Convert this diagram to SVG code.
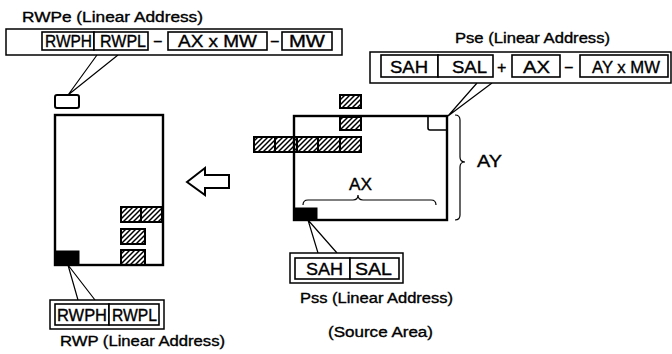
<svg xmlns="http://www.w3.org/2000/svg" width="672" height="354" viewBox="0 0 672 354">
<defs>
<pattern id="hatch" patternUnits="userSpaceOnUse" width="5" height="5">
<path d="M0,5 L5,0 M-1,1 L1,-1 M4,6 L6,4" stroke="#000" stroke-width="1.5"/>
</pattern>
<style>
text{font-family:"Liberation Sans",Arial,sans-serif;fill:#000;stroke:#000;stroke-width:0.35}
.lbl{font-size:14px}
.reg{font-size:16px}
.box{fill:#fff;stroke:#000;stroke-width:1.6}
.outer{fill:#fff;stroke:#000;stroke-width:1.5}
.area{fill:none;stroke:#000;stroke-width:2.4}
.h{fill:url(#hatch);stroke:#000;stroke-width:2}
.blk{fill:#000;stroke:#000;stroke-width:1}
.ln{fill:none;stroke:#000;stroke-width:1.2}
</style>
</defs>
<rect width="672" height="354" fill="#fff"/>

<g id="connectors">
<path class="ln" d="M97,55 L68,95 M118,55 L68,95"/>
<path class="ln" d="M477,83 L448,116 M492,83 L448,116"/>
<path class="ln" d="M308,220 L318,253 M308,220 L337,253"/>
<path class="ln" d="M68,265 L78,300 M68,265 L95,300"/>
<polygon points="187,182 205,168 205,175 229,175 229,188 205,188 205,195" fill="#fff" stroke="#000" stroke-width="2"/>
</g>

<g id="rwpe">
<text class="lbl" x="22" y="22" textLength="181" lengthAdjust="spacingAndGlyphs">RWPe  (Linear Address)</text>
<rect class="outer" x="6" y="29" width="336" height="26"/>
<rect class="box" x="42" y="32" width="52" height="18"/>
<rect class="box" x="94" y="32" width="54" height="18"/>
<rect class="box" x="168" y="32" width="99" height="18"/>
<rect class="box" x="282" y="32" width="50" height="18"/>
<text class="reg" x="45" y="47" textLength="47" lengthAdjust="spacingAndGlyphs">RWPH</text>
<text class="reg" x="100" y="47" textLength="46" lengthAdjust="spacingAndGlyphs">RWPL</text>
<text class="reg" x="153" y="47">−</text>
<text class="reg" x="178" y="47" textLength="79" lengthAdjust="spacingAndGlyphs">AX x MW</text>
<text class="reg" x="270" y="47">−</text>
<text class="reg" x="289" y="47" textLength="36" lengthAdjust="spacingAndGlyphs">MW</text>
</g>

<g id="pse">
<text class="lbl" x="455" y="43" textLength="155" lengthAdjust="spacingAndGlyphs">Pse (Linear Address)</text>
<rect class="outer" x="370" y="52" width="301" height="31"/>
<rect class="box" x="381" y="55" width="57" height="22"/>
<rect class="box" x="438" y="55" width="55" height="22"/>
<rect class="box" x="512" y="55" width="48" height="22"/>
<rect class="box" x="580" y="55" width="88" height="22"/>
<text class="reg" x="390" y="73" textLength="38" lengthAdjust="spacingAndGlyphs">SAH</text>
<text class="reg" x="452" y="73" textLength="35" lengthAdjust="spacingAndGlyphs">SAL</text>
<text class="reg" x="497" y="73">+</text>
<text class="reg" x="523" y="73" textLength="27" lengthAdjust="spacingAndGlyphs">AX</text>
<text class="reg" x="564" y="73">−</text>
<text class="reg" x="592" y="73" textLength="68" lengthAdjust="spacingAndGlyphs">AY x MW</text>
</g>

<g id="dest">
<rect x="55" y="95" width="24" height="13" rx="2" fill="#fff" stroke="#000" stroke-width="2"/>
<rect class="area" x="55" y="115" width="108" height="150"/>
<rect class="h" x="121" y="207" width="20" height="15"/>
<rect class="h" x="141" y="207" width="21" height="15"/>
<rect class="h" x="121" y="229" width="24" height="15"/>
<rect class="h" x="121" y="250" width="24" height="15"/>
<rect class="blk" x="55" y="251" width="24" height="14"/>
</g>

<g id="rwp">
<rect class="outer" x="50" y="300" width="114" height="29"/>
<rect class="box" x="55" y="304" width="54" height="21"/>
<rect class="box" x="109" y="304" width="50" height="21"/>
<text class="reg" x="57" y="321" textLength="50" lengthAdjust="spacingAndGlyphs">RWPH</text>
<text class="reg" x="112" y="321" textLength="45" lengthAdjust="spacingAndGlyphs">RWPL</text>
<text class="lbl" x="60" y="346" textLength="165" lengthAdjust="spacingAndGlyphs">RWP (Linear Address)</text>
</g>

<g id="source">
<rect class="h" x="340" y="95" width="21" height="13"/>
<rect class="h" x="340" y="117" width="21" height="13"/>
<rect class="h" x="254" y="137" width="21" height="15"/>
<rect class="h" x="275" y="137" width="22" height="15"/>
<rect class="h" x="297" y="137" width="21" height="15"/>
<rect class="h" x="318" y="137" width="22" height="15"/>
<rect class="h" x="340" y="137" width="21" height="15"/>
<rect class="area" x="294" y="116" width="153" height="104"/>
<path d="M447,130 L430,130 Q428,130 428,128 L428,116" fill="none" stroke="#000" stroke-width="1.6"/>
<rect class="blk" x="294" y="208" width="23" height="12"/>
<path class="ln" d="M303,205 Q303,200 308,200 L353,200 Q358,200 358,195 Q358,200 363,200 L431,200 Q436,200 436,205"/>
<text class="reg" x="349" y="190" textLength="23" lengthAdjust="spacingAndGlyphs">AX</text>
<path class="ln" d="M455,115 Q460,115 460,120 L460,157 Q460,162 465,162 Q460,162 460,167 L460,215 Q460,220 455,220"/>
<text class="reg" x="477" y="167" textLength="25" lengthAdjust="spacingAndGlyphs">AY</text>
</g>

<g id="pss">
<rect class="outer" x="290" y="253" width="113" height="30"/>
<rect class="box" x="295" y="258" width="55" height="21"/>
<rect class="box" x="350" y="258" width="49" height="21"/>
<text class="reg" x="306" y="275" textLength="37" lengthAdjust="spacingAndGlyphs">SAH</text>
<text class="reg" x="355" y="275" textLength="37" lengthAdjust="spacingAndGlyphs">SAL</text>
<text class="lbl" x="300" y="303" textLength="153" lengthAdjust="spacingAndGlyphs">Pss (Linear Address)</text>
<text class="lbl" x="328" y="337" textLength="105" lengthAdjust="spacingAndGlyphs">(Source Area)</text>
</g>
</svg>
